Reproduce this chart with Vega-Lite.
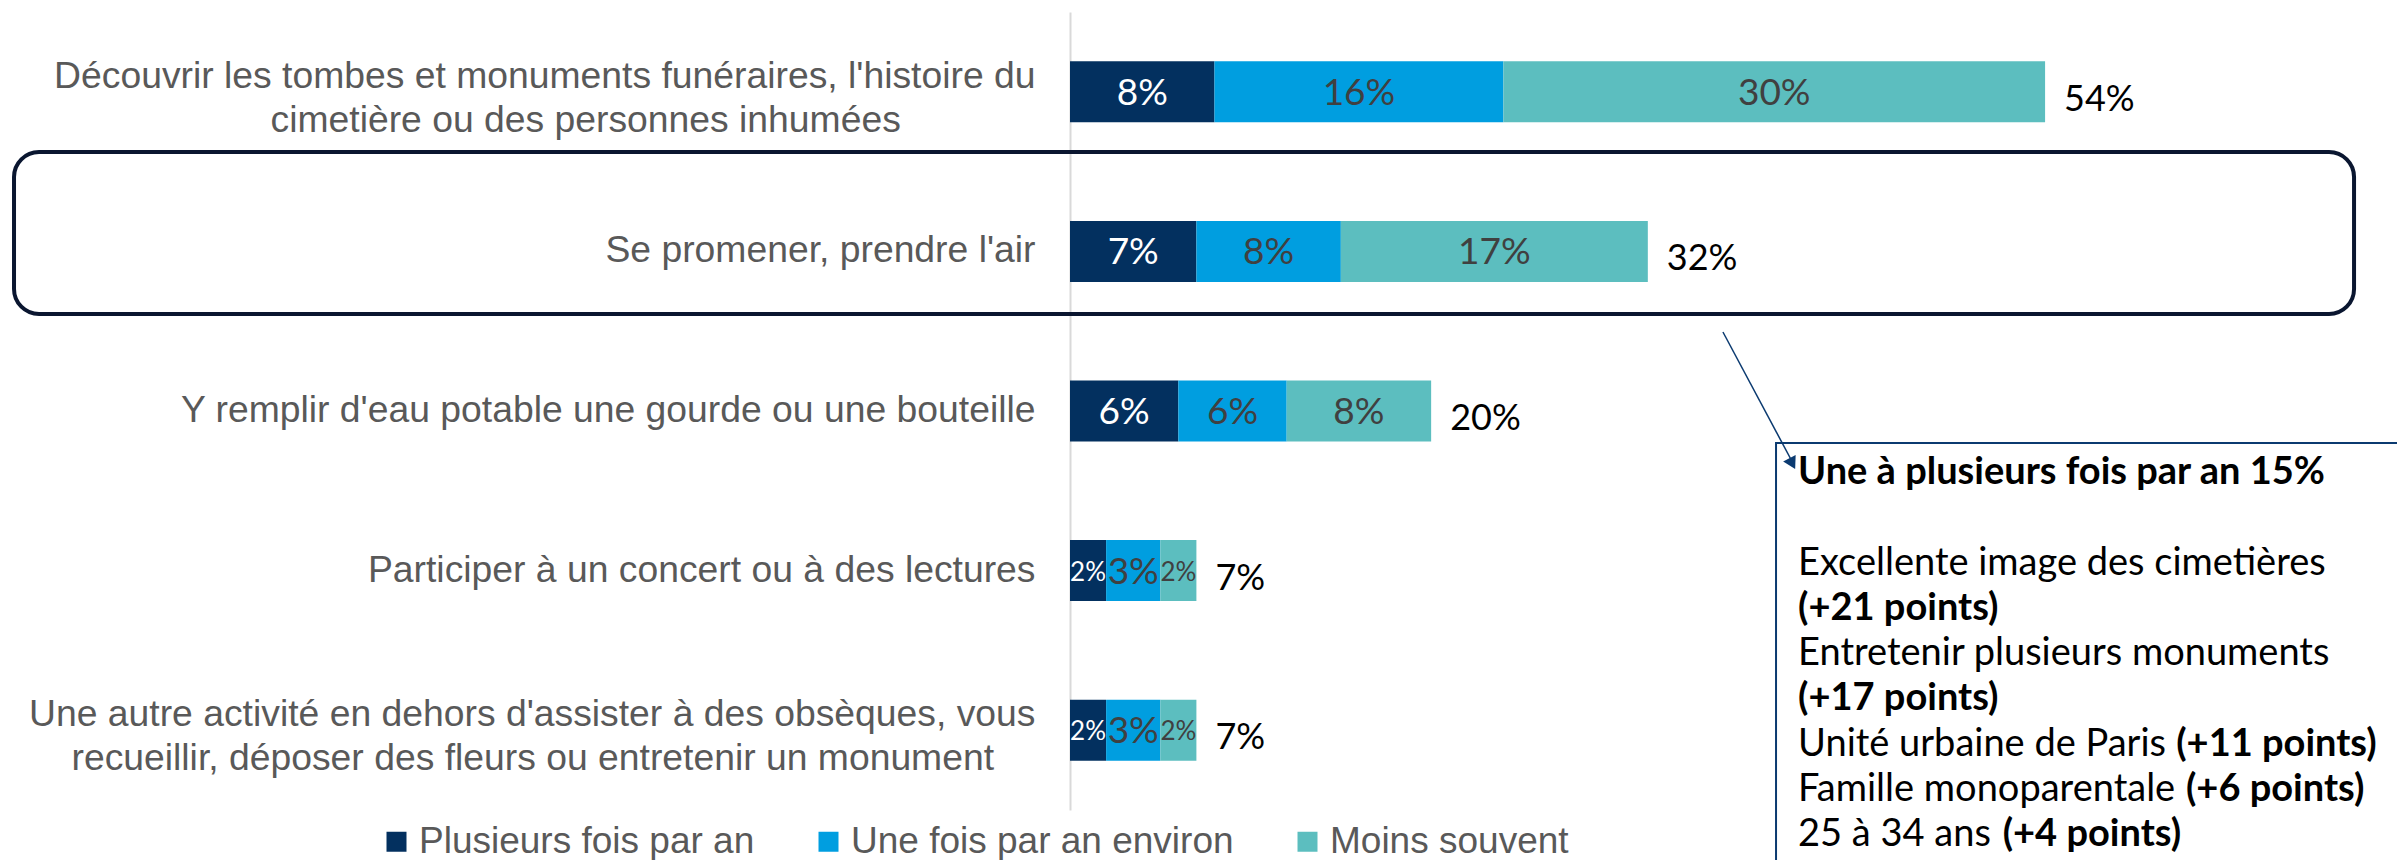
{
  "$schema": "https://vega.github.io/schema/vega-lite/v6.json",
  "width": 1264,
  "height": 798,
  "autosize": {"type": "none"},
  "padding": {"left": 1070, "top": 12, "right": 63, "bottom": 50},
  "background": "white",
  "config": {"view": {"stroke": null}, "font": "Liberation Sans"},
  "datasets": {
    "bars": [
      {"activity": "Découvrir les tombes et monuments funéraires, l'histoire du|cimetière ou des personnes inhumées", "freq": "Plusieurs fois par an", "k": 1, "pct": 8},
      {"activity": "Découvrir les tombes et monuments funéraires, l'histoire du|cimetière ou des personnes inhumées", "freq": "Une fois par an environ", "k": 2, "pct": 16},
      {"activity": "Découvrir les tombes et monuments funéraires, l'histoire du|cimetière ou des personnes inhumées", "freq": "Moins souvent", "k": 3, "pct": 30},
      {"activity": "Se promener, prendre l'air", "freq": "Plusieurs fois par an", "k": 1, "pct": 7},
      {"activity": "Se promener, prendre l'air", "freq": "Une fois par an environ", "k": 2, "pct": 8},
      {"activity": "Se promener, prendre l'air", "freq": "Moins souvent", "k": 3, "pct": 17},
      {"activity": "Y remplir d'eau potable une gourde ou une bouteille", "freq": "Plusieurs fois par an", "k": 1, "pct": 6},
      {"activity": "Y remplir d'eau potable une gourde ou une bouteille", "freq": "Une fois par an environ", "k": 2, "pct": 6},
      {"activity": "Y remplir d'eau potable une gourde ou une bouteille", "freq": "Moins souvent", "k": 3, "pct": 8},
      {"activity": "Participer à un concert ou à des lectures", "freq": "Plusieurs fois par an", "k": 1, "pct": 2},
      {"activity": "Participer à un concert ou à des lectures", "freq": "Une fois par an environ", "k": 2, "pct": 3},
      {"activity": "Participer à un concert ou à des lectures", "freq": "Moins souvent", "k": 3, "pct": 2},
      {"activity": "Une autre activité en dehors d'assister à des obsèques, vous|recueillir, déposer des fleurs ou entretenir un monument", "freq": "Plusieurs fois par an", "k": 1, "pct": 2},
      {"activity": "Une autre activité en dehors d'assister à des obsèques, vous|recueillir, déposer des fleurs ou entretenir un monument", "freq": "Une fois par an environ", "k": 2, "pct": 3},
      {"activity": "Une autre activité en dehors d'assister à des obsèques, vous|recueillir, déposer des fleurs ou entretenir un monument", "freq": "Moins souvent", "k": 3, "pct": 2}
    ],
    "highlight": [{"x": -58.48, "x2": 71.11, "y": 1.377, "y2": 2.392}],
    "box": [{"x": 39.10, "x2": 74.76, "y": 3.2, "y2": 6.064}],
    "arrow": [{"x": 36.16, "x2": 40.1, "y": 2.505, "y2": 3.34}],
    "arrowhead": [{"x": 40.0, "y": 3.33}],
    "notes": [
      {"text": "Une à plusieurs fois par an 15%", "bold": 1, "x": 40.32, "y": 3.389},
      {"text": "Excellente image des cimetières", "bold": 0, "x": 40.32, "y": 3.956},
      {"text": "(+21 points)", "bold": 1, "x": 40.32, "y": 4.240},
      {"text": "Entretenir plusieurs monuments", "bold": 0, "x": 40.32, "y": 4.523},
      {"text": "(+17 points)", "bold": 1, "x": 40.32, "y": 4.807},
      {"text": "Unité urbaine de Paris", "bold": 0, "x": 40.32, "y": 5.091},
      {"text": "(+11 points)", "bold": 1, "x": 61.26, "y": 5.091},
      {"text": "Famille monoparentale", "bold": 0, "x": 40.32, "y": 5.374},
      {"text": "(+6 points)", "bold": 1, "x": 61.8, "y": 5.374},
      {"text": "25 à 34 ans", "bold": 0, "x": 40.32, "y": 5.658},
      {"text": "(+4 points)", "bold": 1, "x": 51.65, "y": 5.658}
    ]
  },
  "layer": [
    {
      "data": {"name": "bars"},
      "encoding": {
        "y": {
          "field": "activity",
          "type": "nominal",
          "sort": null,
          "scale": {"paddingInner": 0.618, "paddingOuter": 0.309},
          "axis": {
            "title": null,
            "domainColor": "#D9D9D9",
            "domainWidth": 2,
            "ticks": false,
            "grid": false,
            "labelPadding": 35,
            "labelFont": "Liberation Sans",
            "labelFontSize": 37.3,
            "labelColor": "#595959",
            "labelLineHeight": 44,
            "labelLimit": 1100,
            "labelOffset": {"condition": {"test": "indexof(datum.value, '|') >= 0", "value": -15}, "value": 0},
            "labelExpr": "indexof(datum.label, '|') < 0 ? datum.label : [split(datum.label, '|')[0], split(datum.label, '|')[1] + (length(datum.label) < 100 ? '\u00a0\u00a0\u00a0\u00a0\u00a0\u00a0\u00a0\u00a0\u00a0\u00a0\u00a0\u00a0\u00a0\u200b' : '\u00a0\u00a0\u00a0\u00a0\u200b')]"
          }
        }
      },
      "layer": [
        {
          "transform": [
            {"stack": "pct", "groupby": ["activity"], "sort": [{"field": "k", "order": "ascending"}], "as": ["x0", "x1"]}
          ],
          "mark": {"type": "bar"},
          "encoding": {
            "x": {"field": "x0", "type": "quantitative", "scale": {"domain": [0, 70], "nice": false, "zero": false}, "axis": null},
            "x2": {"field": "x1"},
            "color": {
              "field": "freq",
              "type": "nominal",
              "scale": {"domain": ["Plusieurs fois par an", "Une fois par an environ", "Moins souvent"], "range": ["#03305F", "#009EE0", "#5CBEBF"]},
              "legend": {
                "orient": "none",
                "legendX": -692,
                "legendY": 811,
                "direction": "horizontal",
                "gridAlign": "each",
                "title": null,
                "symbolType": "square",
                "symbolSize": 400,
                "symbolStrokeWidth": 0,
                "labelFont": "Liberation Sans",
                "labelFontSize": 37,
                "labelColor": "#595959",
                "labelOffset": 4,
                "columnPadding": 55,
                "labelLimit": 600
              }
            }
          }
        },
        {
          "transform": [
            {"stack": "pct", "groupby": ["activity"], "sort": [{"field": "k", "order": "ascending"}], "as": ["x0", "x1"]},
            {"calculate": "(datum.x0 + datum.x1) / 2", "as": "mid"},
            {"calculate": "datum.pct + '%'", "as": "lab"}
          ],
          "mark": {"type": "text", "font": "Lato", "baseline": "middle", "align": "center", "dy": 2},
          "encoding": {
            "x": {"field": "mid", "type": "quantitative", "scale": {"domain": [0, 70], "nice": false, "zero": false}, "axis": null},
            "text": {"field": "lab"},
            "color": {"condition": {"test": "datum.k == 1", "value": "#FFFFFF"}, "value": "#404040"},
            "size": {"condition": {"test": "datum.pct <= 2", "value": 26}, "value": 37}
          }
        },
        {
          "transform": [
            {"aggregate": [{"op": "sum", "field": "pct", "as": "total"}], "groupby": ["activity"]},
            {"calculate": "datum.total + '%'", "as": "tlab"}
          ],
          "mark": {"type": "text", "font": "Lato", "fontSize": 36, "align": "left", "baseline": "middle", "dx": 19, "dy": 8, "color": "#000000"},
          "encoding": {
            "x": {"field": "total", "type": "quantitative", "scale": {"domain": [0, 70], "nice": false, "zero": false}, "axis": null},
            "text": {"field": "tlab"}
          }
        }
      ]
    },
    {
      "encoding": {
        "y": {"field": "y", "type": "quantitative", "scale": {"domain": [0.5, 5.5], "reverse": true, "nice": false, "zero": false}, "axis": null}
      },
      "layer": [
        {
          "data": {"name": "highlight"},
          "mark": {"type": "rect", "cornerRadius": 25, "fill": "transparent", "stroke": "#0A1630", "strokeWidth": 4},
          "encoding": {
            "x": {"field": "x", "type": "quantitative", "scale": {"domain": [0, 70], "nice": false, "zero": false}, "axis": null},
            "x2": {"field": "x2"},
            "y2": {"field": "y2"}
          }
        },
        {
          "data": {"name": "box"},
          "mark": {"type": "rect", "fill": "#FFFFFF", "stroke": "#0B3A70", "strokeWidth": 2},
          "encoding": {
            "x": {"field": "x", "type": "quantitative", "scale": {"domain": [0, 70], "nice": false, "zero": false}, "axis": null},
            "x2": {"field": "x2"},
            "y2": {"field": "y2"}
          }
        },
        {
          "data": {"name": "arrow"},
          "mark": {"type": "rule", "color": "#0B3A70", "strokeWidth": 1.5},
          "encoding": {
            "x": {"field": "x", "type": "quantitative", "scale": {"domain": [0, 70], "nice": false, "zero": false}, "axis": null},
            "x2": {"field": "x2"},
            "y2": {"field": "y2"}
          }
        },
        {
          "data": {"name": "arrowhead"},
          "mark": {"type": "point", "shape": "triangle-up", "filled": true, "color": "#0B3A70", "size": 200, "angle": 152, "opacity": 1},
          "encoding": {
            "x": {"field": "x", "type": "quantitative", "scale": {"domain": [0, 70], "nice": false, "zero": false}, "axis": null}
          }
        },
        {
          "data": {"name": "notes"},
          "transform": [{"filter": "datum.bold == 0"}],
          "mark": {"type": "text", "align": "left", "baseline": "middle", "font": "Lato", "fontSize": 38, "color": "#000000"},
          "encoding": {
            "x": {"field": "x", "type": "quantitative", "scale": {"domain": [0, 70], "nice": false, "zero": false}, "axis": null},
            "text": {"field": "text"}
          }
        },
        {
          "data": {"name": "notes"},
          "transform": [{"filter": "datum.bold == 1"}],
          "mark": {"type": "text", "align": "left", "baseline": "middle", "font": "Lato", "fontSize": 38, "fontWeight": "bold", "color": "#000000"},
          "encoding": {
            "x": {"field": "x", "type": "quantitative", "scale": {"domain": [0, 70], "nice": false, "zero": false}, "axis": null},
            "text": {"field": "text"}
          }
        }
      ]
    }
  ],
  "resolve": {"scale": {"y": "independent"}}
}
